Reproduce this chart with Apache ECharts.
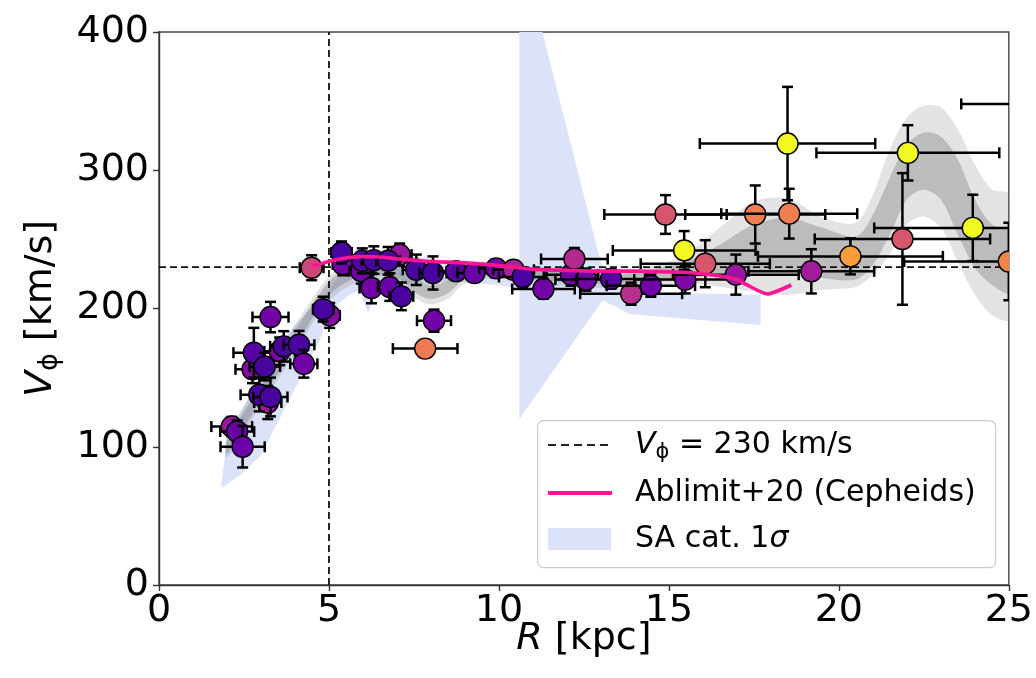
<!DOCTYPE html>
<html><head><meta charset="utf-8">
<script src="https://cdn.jsdelivr.net/npm/echarts@6/dist/echarts.min.js"></script>
<style>html,body{margin:0;padding:0;background:#fff}#c{width:1036px;height:678px}</style>
</head><body><div id="c"></div>
<script>
// ---- data ----
const xTicks = [0, 5, 10, 15, 20, 25];
const yTicks = [0, 100, 200, 300, 400];
const vRef = 230;   // horizontal dashed line
const rRef = 5;     // vertical dashed line

// measurement points: R [kpc], V [km/s], errors, colour value (0..1 on plasma)
const ptR    = [2.14,2.30,2.46,3.20,2.95,3.28,2.75,2.79,3.11,3.55,3.67,4.12,4.26,3.28,5.02,4.83,4.49,5.41,5.37,5.95,5.98,6.32,7.08,6.74,6.25,6.79,7.13,7.57,8.06,8.09,7.83,8.74,9.28,9.92,10.43,10.70,11.31,12.12,12.22,12.56,13.30,13.89,14.47,15.48,14.90,15.45,16.07,16.97,17.54,18.54,18.49,19.19,20.34,21.87,22.03,23.94,25.00,26.80];
const ptV    = [114.6,111,100,132,137.6,136,156,168,158,169,172.6,173.8,160,193.8,195,199.5,229.5,232,240.5,227,234.5,235,239,234.5,214.8,215.5,208.8,228,225.7,191.2,171,226.9,225.7,229,228,222.8,214.1,224.5,235.8,220.9,221.4,210.7,216.5,220.9,268,242,232.4,224.5,268,268.6,319.3,226.9,237.7,250.3,312.6,258.3,234,348];
const ptRerr = [0.60,0.50,0.65,0.40,0.55,0.50,0.50,0.60,0.45,0.45,0.40,0.45,0.40,0.53,0.30,0.30,0.35,0.30,0.30,0.35,0.30,0.35,0.35,0.35,0.35,0.35,0.35,0.40,0.40,0.50,0.95,0.50,0.50,0.50,0.60,0.70,0.92,0.80,0.98,0.90,1.00,1.50,1.30,1.50,1.80,2.10,1.90,1.85,2.06,2.00,2.58,1.85,2.72,2.58,2.69,2.90,3.08,3.20];
const ptVerr = [7,8,15,12,12,14,10,18,10,10,11,10,10,11,9,9,9,8,8,9,9,10,8,10,11,10,10,11,12,8,6,6,6,6,6,7,7,8,8,8,7,8,8,10,14,14,17,14.5,21,18,41,16,13,47.6,20,24,28,25];
const ptC    = [0.33,0.20,0.20,0.35,0.12,0.12,0.28,0.15,0.12,0.25,0.12,0.13,0.22,0.22,0.28,0.12,0.50,0.22,0.12,0.22,0.15,0.12,0.33,0.12,0.22,0.20,0.12,0.12,0.12,0.22,0.67,0.15,0.20,0.22,0.38,0.12,0.22,0.22,0.40,0.22,0.15,0.42,0.22,0.25,0.55,1.00,0.55,0.33,0.68,0.68,1.00,0.35,0.77,0.55,1.00,1.00,0.70,1.00];

// Ablimit+20 (Cepheids) curve
const abR = [4.5,5.0,5.5,6.0,6.5,7.0,7.5,8.0,9.0,10.0,11.0,12.0,13.0,14.0,15.0,15.5,16.0,16.5,17.0,17.3,17.9,18.6];
const abV = [230.5,234,236.5,237.5,237.2,236,235,234,233,231,228.5,227.5,227,227,226.5,226,225,223.5,221,217,210.5,217];

// SA cat. 1 sigma region: upper and lower boundaries, left to right
const saUpR = [1.84,2.0,2.5,3.0,3.5,4.0,4.5,5.0,5.5,6.0,6.5,7.0,8.0,9.0,10.0,10.6,10.6,11.28,13.0,13.6,17.7];
const saUpV = [74,104,130,152,172,188,201,214,230,240,241,240,236,233,232,231,400,400,233,212,210];
const saLoR = [1.84,2.4,2.97,3.5,4.0,4.73,5.0,5.6,5.9,6.15,6.45,7.0,8.0,9.0,10.0,10.6,10.6,13.05,13.85,17.7];
const saLoV = [70,80,93,118,142,177,198,210,213,197,214,217,219,219,217,214,120,206,196,188];

// grey running bands (outer = 2 sigma, inner = 1 sigma)
const gR    = [2.0,3.0,4.0,4.7,5.2,6.0,7.0,7.5,8.0,8.5,9.0,10.0,11.0,12.0,13.0,14.0,15.0,15.5,16.5,17.5,18.5,19.5,20.5,21.0,21.5,22.0,22.5,23.0,23.5,24.0,24.5,25.0];
const gOutLo= [92,130,168,196,210,220,218,208,203,207,218,222,218,216,215,214,217,218.7,215.8,212.2,210,213.6,215.8,224.5,239,260.7,266.5,258.5,233.9,210,195.5,191.9];
const gOutHi= [108,148,188,214,228,236,236,226,221,224,232,234,230,228,226,228,234,239,258.5,277.3,279.5,266,262,282.4,315,338.2,346.9,345.4,329.5,304.1,286,282.4];
const gInLo = [95,134,172,200,214,224,222,212,207,211,221,224,221,219,218,218,220,222.3,223.8,226.6,228.1,222.3,220.9,231.7,253.4,278.8,286,278.8,253.4,229.5,217.2,211.4];
const gInHi = [105,144,184,210,224,232,232,222,217,220,229,232,228,226,224,226,231,233.9,246.2,260.7,265.7,258.5,252,267.9,294.7,318.6,327.3,324.4,307.7,278.8,260.7,255.6];

// ---- styling helpers ----
const PLASMA = ['#0d0887','#41049d','#6a00a8','#8f0da4','#b12a90','#cc4778','#e16462','#f2844b','#fca636','#fcce25','#f0f921'];
function hex2rgb(h){return [parseInt(h.slice(1,3),16),parseInt(h.slice(3,5),16),parseInt(h.slice(5,7),16)];}
function plasma(t){
  t = Math.max(0, Math.min(1, t));
  const f = t * 10, i = Math.min(9, Math.floor(f)), u = f - i;
  const a = hex2rgb(PLASMA[i]), b = hex2rgb(PLASMA[i+1]);
  return 'rgb(' + a.map((v,k)=>Math.round(v + (b[k]-v)*u)).join(',') + ')';
}
const FONT = 'DejaVu Sans';

const points = ptR.map((r,i)=>[r, ptV[i], ptRerr[i], ptVerr[i], ptC[i]]);

function bandRender(upR, upV, loR, loV, fill, smooth){
  return function(params, api){
    const pts = [];
    for (let i=0;i<upR.length;i++) pts.push(api.coord([upR[i], upV[i]]));
    for (let i=loR.length-1;i>=0;i--) pts.push(api.coord([loR[i], loV[i]]));
    return {type:'polygon', shape:{points:pts, smooth:smooth||0}, style:{fill:fill, stroke:null}};
  };
}

const chart = echarts.init(document.getElementById('c'), null, {renderer:'canvas'});
const option = {
  backgroundColor:'#fff',
  animation:false,
  grid:{left:159, right:26, top:32, bottom:93, show:true, borderColor:'#444', borderWidth:1.4, backgroundColor:'transparent'},
  xAxis:{
    type:'value', min:xTicks[0], max:xTicks[xTicks.length-1], interval:5,
    name:'{i|R} [kpc]', nameLocation:'middle', nameGap:35, nameMoveOverlap:false,
    nameTextStyle:{fontFamily:FONT, fontSize:38, color:'#000', rich:{i:{fontFamily:FONT, fontSize:38, fontStyle:'italic', color:'#000'}}},
    axisLine:{show:true, lineStyle:{color:'#333', width:1.4}},
    axisTick:{show:true, length:6, lineStyle:{color:'#333', width:1.4}},
    axisLabel:{fontFamily:FONT, fontSize:38, color:'#000', margin:7},
    splitLine:{show:false}
  },
  yAxis:{
    type:'value', min:yTicks[0], max:yTicks[yTicks.length-1], interval:100,
    name:'{i|V}{s|ϕ} [km/s]', nameLocation:'middle', nameRotate:90, nameGap:96, nameMoveOverlap:false,
    nameTextStyle:{fontFamily:FONT, fontSize:38, color:'#000', lineHeight:44,
      rich:{i:{fontFamily:FONT, fontSize:38, fontStyle:'italic', color:'#000', lineHeight:44},
            s:{fontFamily:FONT, fontSize:27, color:'#000', lineHeight:22, verticalAlign:'bottom'}}},
    axisLine:{show:true, lineStyle:{color:'#333', width:1.4}},
    axisTick:{show:true, length:6, lineStyle:{color:'#333', width:1.4}},
    axisLabel:{fontFamily:FONT, fontSize:38, color:'#000', margin:10},
    splitLine:{show:false}
  },
  series:[
    {type:'custom', name:'SA', coordinateSystem:'cartesian2d', clip:true, z:1, silent:true,
     data:[[0,0]], renderItem:bandRender(saUpR, saUpV, saLoR, saLoV, '#dce2f8', 0)},
    {type:'custom', name:'grey2', coordinateSystem:'cartesian2d', clip:true, z:2, silent:true,
     data:[[0,0]], renderItem:bandRender(gR, gOutHi, gR, gOutLo, 'rgba(128,128,128,0.22)', 0.3)},
    {type:'custom', name:'grey1', coordinateSystem:'cartesian2d', clip:true, z:3, silent:true,
     data:[[0,0]], renderItem:bandRender(gR, gInHi, gR, gInLo, 'rgba(100,100,100,0.30)', 0.3)},
    {type:'line', name:'vref', z:4, data:[[xTicks[0], vRef],[xTicks[xTicks.length-1], vRef]], symbol:'none', silent:true,
     lineStyle:{color:'#111', width:1.8, type:[7,4]}},
    {type:'line', name:'rref', z:4, data:[[rRef, yTicks[0]],[rRef, yTicks[yTicks.length-1]]], symbol:'none', silent:true,
     lineStyle:{color:'#111', width:1.8, type:[7,4]}},
    {type:'custom', name:'points', coordinateSystem:'cartesian2d', clip:true, z:5,
     encode:{x:0, y:1}, data:points,
     renderItem:function(params, api){
       const x=api.value(0), y=api.value(1), ex=api.value(2), ey=api.value(3), c=api.value(4);
       const p=api.coord([x,y]), pl=api.coord([x-ex,y]), pr=api.coord([x+ex,y]);
       const pt=api.coord([x,y+ey]), pb=api.coord([x,y-ey]);
       const cap=5.5, ls={stroke:'#000', lineWidth:2.5};
       return {type:'group', children:[
         {type:'line', shape:{x1:pl[0],y1:p[1],x2:pr[0],y2:p[1]}, style:ls},
         {type:'line', shape:{x1:pl[0],y1:p[1]-cap,x2:pl[0],y2:p[1]+cap}, style:ls},
         {type:'line', shape:{x1:pr[0],y1:p[1]-cap,x2:pr[0],y2:p[1]+cap}, style:ls},
         {type:'line', shape:{x1:p[0],y1:pt[1],x2:p[0],y2:pb[1]}, style:ls},
         {type:'line', shape:{x1:p[0]-cap,y1:pt[1],x2:p[0]+cap,y2:pt[1]}, style:ls},
         {type:'line', shape:{x1:p[0]-cap,y1:pb[1],x2:p[0]+cap,y2:pb[1]}, style:ls},
         {type:'circle', shape:{cx:p[0],cy:p[1],r:10.5}, style:{fill:plasma(c), stroke:'#000', lineWidth:1.4}}
       ]};
     }},
    {type:'line', name:'Ablimit+20 (Cepheids)', z:6, data:abR.map((r,i)=>[r, abV[i]]), symbol:'none', smooth:0.2, silent:true,
     lineStyle:{color:'#ff1493', width:3.6}}
  ],
  graphic:[
    {type:'rect', left:537, top:420, z:100, shape:{width:458, height:147, r:6}, style:{fill:'rgba(255,255,255,0.85)', stroke:'#cccccc', lineWidth:1.2}},
    {type:'line', z:101, shape:{x1:548,y1:445,x2:611,y2:445}, style:{stroke:'#222', lineWidth:2, lineDash:[8,5]}},
    {type:'line', z:101, shape:{x1:548,y1:493,x2:612,y2:493}, style:{stroke:'#ff1493', lineWidth:4}},
    {type:'rect', z:101, shape:{x:548,y:528,width:63,height:22}, style:{fill:'#dce2f8'}},
    {type:'text', z:101, x:635, y:445, style:{text:'{i|V}{s|ϕ}{t| = 230 km/s}', verticalAlign:'middle', align:'left',
       rich:{i:{fontFamily:FONT, fontSize:30, fontStyle:'italic', fill:'#000', lineHeight:36},
             s:{fontFamily:FONT, fontSize:21, fill:'#000', lineHeight:16, verticalAlign:'bottom'},
             t:{fontFamily:FONT, fontSize:30, fill:'#000', lineHeight:36}}}},
    {type:'text', z:101, x:635, y:493, style:{text:'Ablimit+20 (Cepheids)', verticalAlign:'middle', align:'left', fontFamily:FONT, fontSize:30, fill:'#000'}},
    {type:'text', z:101, x:635, y:539, style:{text:'{t|SA cat. 1}{i|σ}', verticalAlign:'middle', align:'left',
       rich:{t:{fontFamily:FONT, fontSize:30, fill:'#000'}, i:{fontFamily:FONT, fontSize:30, fontStyle:'italic', fill:'#000'}}}}
  ]
};
chart.setOption(option);
</script></body></html>
